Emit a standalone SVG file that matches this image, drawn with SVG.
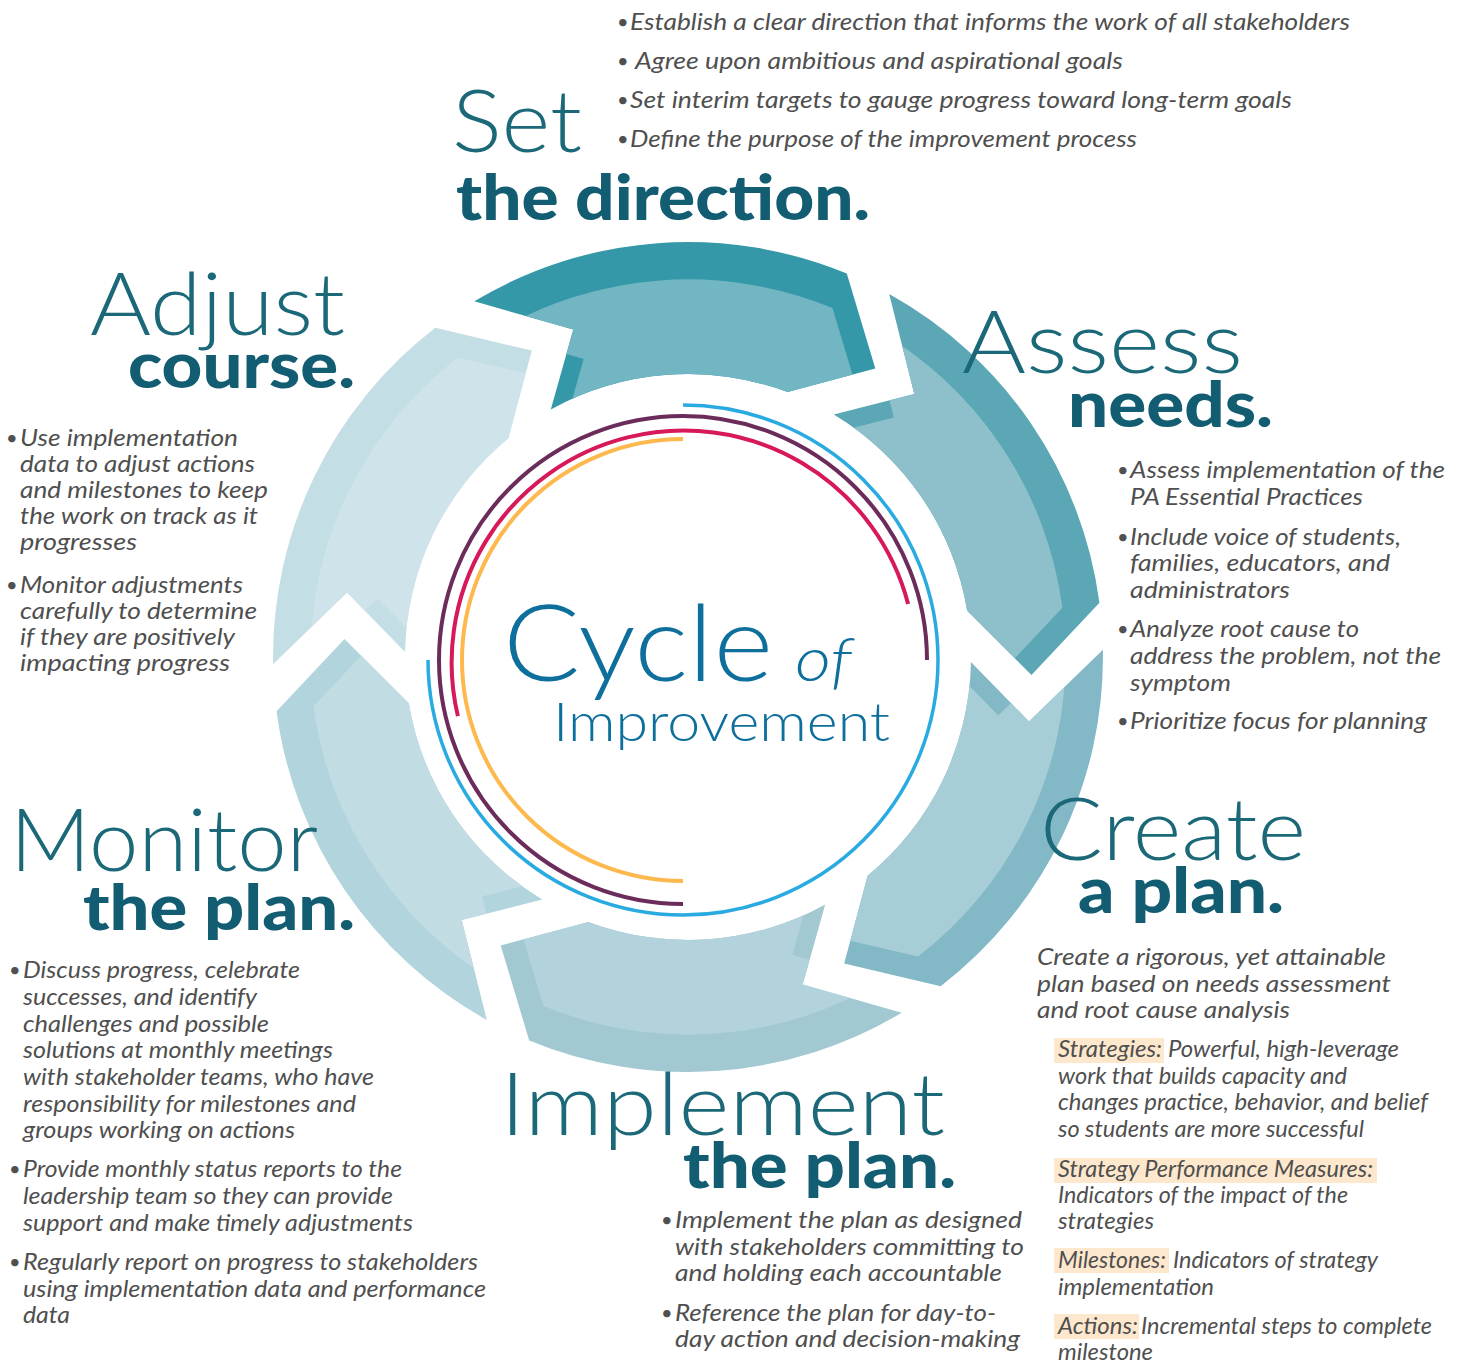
<svg xmlns="http://www.w3.org/2000/svg" xmlns:xlink="http://www.w3.org/1999/xlink" width="1465" height="1363" viewBox="0 0 1465 1363">
<style>
.h1{font-family:Lato,"Open Sans","DejaVu Sans",sans-serif;font-weight:300;font-size:87px;fill:#1b6878}
.h2{font-family:Lato,"Open Sans","DejaVu Sans",sans-serif;font-weight:900;font-size:62px;fill:#135d72}
.b{font-family:Lato,"Open Sans","DejaVu Sans",sans-serif;font-style:italic;font-size:23.5px;fill:#4f4f4f}
.dot{font-family:Lato,"DejaVu Sans",sans-serif;font-size:20px;fill:#505050}
.cy{font-family:Lato,"Open Sans",sans-serif;fill:#0e6f9d}
.hl{fill:#fde8cd}
</style>
<defs>
<path id="arw" d="M -213.7 -355.7 A 415 415 0 0 1 158.8 -383.4 L 187.3 -288.5 L 99.6 -264.9 A 283 283 0 0 0 -137.2 -247.5 L -114.7 -327.5 Z"/>
<clipPath id="arwClip"><use href="#arw"/></clipPath>
</defs>
<rect width="1465" height="1363" fill="#ffffff"/>

<g id="arrow-set" transform="translate(688 657)">
<use href="#arw" fill="#3598a9"/>
<g clip-path="url(#arwClip)"><use href="#arw" transform="scale(0.91)" fill="#71b6c2"/></g>
</g>
<g id="arrow-assess" transform="translate(688 657) rotate(60)">
<use href="#arw" fill="#5ba7b5"/>
<g clip-path="url(#arwClip)"><use href="#arw" transform="scale(0.91)" fill="#8dc0ca"/></g>
</g>
<g id="arrow-create" transform="translate(688 657) rotate(120)">
<use href="#arw" fill="#83b9c6"/>
<g clip-path="url(#arwClip)"><use href="#arw" transform="scale(0.91)" fill="#a7ced7"/></g>
</g>
<g id="arrow-implement" transform="translate(688 657) rotate(180)">
<use href="#arw" fill="#a2c8d2"/>
<g clip-path="url(#arwClip)"><use href="#arw" transform="scale(0.91)" fill="#b2d3dc"/></g>
</g>
<g id="arrow-monitor" transform="translate(688 657) rotate(240)">
<use href="#arw" fill="#b2d4dd"/>
<g clip-path="url(#arwClip)"><use href="#arw" transform="scale(0.91)" fill="#c2dce4"/></g>
</g>
<g id="arrow-adjust" transform="translate(688 657) rotate(300)">
<use href="#arw" fill="#c4dee5"/>
<g clip-path="url(#arwClip)"><use href="#arw" transform="scale(0.91)" fill="#cfe4ea"/></g>
</g>

<g id="rings" fill="none" stroke-width="4">
<path d="M 683 405 A 255 255 0 1 1 428 660" stroke="#29aae1" stroke-width="3.5"/>
<path d="M 927 660 A 244 244 0 1 0 683 904" stroke="#6b2c5b"/>
<path d="M 908.1 603.9 A 232 232 0 0 0 457.9 716.1" stroke="#d7195b"/>
<path d="M 683 439 A 221 221 0 0 0 683 881" stroke="#fdb94e"/>
</g>

<g id="center-title">
<text class="cy" x="503" y="681" font-size="107" font-weight="300" textLength="270" lengthAdjust="spacingAndGlyphs">Cycle</text>
<text class="cy" x="795" y="681" font-size="62" font-weight="300" font-style="italic" textLength="57" lengthAdjust="spacingAndGlyphs">of</text>
<text class="cy" x="553" y="741" font-size="53" font-weight="300" textLength="337" lengthAdjust="spacingAndGlyphs">Improvement</text>
</g>

<g id="set">
<text class="h1" x="452" y="152" textLength="130" lengthAdjust="spacingAndGlyphs">Set</text>
<text class="h2" x="456" y="220" textLength="414" lengthAdjust="spacingAndGlyphs">the direction.</text>
<text class="dot" x="617" y="29">•</text>
<text class="b" x="630" y="30" textLength="720" lengthAdjust="spacingAndGlyphs">Establish a clear direction that informs the work of all stakeholders</text>
<text class="dot" x="617" y="68">•</text>
<text class="b" x="635" y="69" textLength="488" lengthAdjust="spacingAndGlyphs">Agree upon ambitious and aspirational goals</text>
<text class="dot" x="617" y="107">•</text>
<text class="b" x="630" y="108" textLength="662" lengthAdjust="spacingAndGlyphs">Set interim targets to gauge progress toward long-term goals</text>
<text class="dot" x="617" y="146">•</text>
<text class="b" x="630" y="147" textLength="507" lengthAdjust="spacingAndGlyphs">Define the purpose of the improvement process</text>
</g>

<g id="adjust">
<text class="h1" x="90" y="335" textLength="255" lengthAdjust="spacingAndGlyphs">Adjust</text>
<text class="h2" x="128" y="388" textLength="227" lengthAdjust="spacingAndGlyphs">course.</text>
<g style="font-size:24.5px">
<text class="dot" x="6" y="445">•</text>
<text class="b" x="20" y="446" textLength="218" lengthAdjust="spacingAndGlyphs">Use implementation</text>
<text class="b" x="20" y="472" textLength="235" lengthAdjust="spacingAndGlyphs">data to adjust actions</text>
<text class="b" x="20" y="498" textLength="248" lengthAdjust="spacingAndGlyphs">and milestones to keep</text>
<text class="b" x="20" y="524" textLength="238" lengthAdjust="spacingAndGlyphs">the work on track as it</text>
<text class="b" x="20" y="550" textLength="117" lengthAdjust="spacingAndGlyphs">progresses</text>
<text class="dot" x="6" y="592">•</text>
<text class="b" x="20" y="593" textLength="223" lengthAdjust="spacingAndGlyphs">Monitor adjustments</text>
<text class="b" x="20" y="619" textLength="237" lengthAdjust="spacingAndGlyphs">carefully to determine</text>
<text class="b" x="20" y="645" textLength="215" lengthAdjust="spacingAndGlyphs">if they are positively</text>
<text class="b" x="20" y="671" textLength="210" lengthAdjust="spacingAndGlyphs">impacting progress</text>
</g>
</g>

<g id="assess">
<text class="h1" x="962" y="373" textLength="281" lengthAdjust="spacingAndGlyphs">Assess</text>
<text class="h2" x="1068" y="427" textLength="205" lengthAdjust="spacingAndGlyphs">needs.</text>
<g style="font-size:24.5px">
<text class="dot" x="1117" y="477">•</text>
<text class="b" x="1130" y="478" textLength="315" lengthAdjust="spacingAndGlyphs">Assess implementation of the</text>
<text class="b" x="1130" y="505" textLength="233" lengthAdjust="spacingAndGlyphs">PA Essential Practices</text>
<text class="dot" x="1117" y="544">•</text>
<text class="b" x="1130" y="545" textLength="271" lengthAdjust="spacingAndGlyphs">Include voice of students,</text>
<text class="b" x="1130" y="571" textLength="260" lengthAdjust="spacingAndGlyphs">families, educators, and</text>
<text class="b" x="1130" y="598" textLength="160" lengthAdjust="spacingAndGlyphs">administrators</text>
<text class="dot" x="1117" y="636">•</text>
<text class="b" x="1130" y="637" textLength="229" lengthAdjust="spacingAndGlyphs">Analyze root cause to</text>
<text class="b" x="1130" y="664" textLength="311" lengthAdjust="spacingAndGlyphs">address the problem, not the</text>
<text class="b" x="1130" y="691" textLength="101" lengthAdjust="spacingAndGlyphs">symptom</text>
<text class="dot" x="1117" y="728">•</text>
<text class="b" x="1130" y="729" textLength="297" lengthAdjust="spacingAndGlyphs">Prioritize focus for planning</text>
</g>
</g>

<g id="create">
<text class="h1" x="1040" y="860" textLength="266" lengthAdjust="spacingAndGlyphs">Create</text>
<text class="h2" x="1078" y="913" textLength="206" lengthAdjust="spacingAndGlyphs">a plan.</text>
<g style="font-size:24px">
<text class="b" x="1037" y="965" textLength="349" lengthAdjust="spacingAndGlyphs">Create a rigorous, yet attainable</text>
<text class="b" x="1037" y="992" textLength="354" lengthAdjust="spacingAndGlyphs">plan based on needs assessment</text>
<text class="b" x="1037" y="1018" textLength="253" lengthAdjust="spacingAndGlyphs">and root cause analysis</text>
</g>
<rect class="hl" x="1054" y="1038" width="110" height="25"/>
<rect class="hl" x="1054" y="1158" width="323" height="25"/>
<rect class="hl" x="1054" y="1248" width="115" height="25"/>
<rect class="hl" x="1054" y="1314" width="85" height="25"/>
<g style="font-size:22.5px">
<text class="b" x="1058" y="1057" textLength="104" lengthAdjust="spacingAndGlyphs">Strategies:</text>
<text class="b" x="1168" y="1057" textLength="231" lengthAdjust="spacingAndGlyphs">Powerful, high-leverage</text>
<text class="b" x="1058" y="1084" textLength="289" lengthAdjust="spacingAndGlyphs">work that builds capacity and</text>
<text class="b" x="1058" y="1110" textLength="370" lengthAdjust="spacingAndGlyphs">changes practice, behavior, and belief</text>
<text class="b" x="1058" y="1137" textLength="306" lengthAdjust="spacingAndGlyphs">so students are more successful</text>
<text class="b" x="1058" y="1177" textLength="315" lengthAdjust="spacingAndGlyphs">Strategy Performance Measures:</text>
<text class="b" x="1058" y="1203" textLength="290" lengthAdjust="spacingAndGlyphs">Indicators of the impact of the</text>
<text class="b" x="1058" y="1229" textLength="96" lengthAdjust="spacingAndGlyphs">strategies</text>
<text class="b" x="1058" y="1268" textLength="108" lengthAdjust="spacingAndGlyphs">Milestones:</text>
<text class="b" x="1173" y="1268" textLength="205" lengthAdjust="spacingAndGlyphs">Indicators of strategy</text>
<text class="b" x="1058" y="1295" textLength="156" lengthAdjust="spacingAndGlyphs">implementation</text>
<text class="b" x="1058" y="1334" textLength="80" lengthAdjust="spacingAndGlyphs">Actions:</text>
<text class="b" x="1141" y="1334" textLength="291" lengthAdjust="spacingAndGlyphs">Incremental steps to complete</text>
<text class="b" x="1058" y="1360" textLength="95" lengthAdjust="spacingAndGlyphs">milestone</text>
</g>
</g>

<g id="implement">
<text class="h1" x="500" y="1135" textLength="445" lengthAdjust="spacingAndGlyphs">Implement</text>
<text class="h2" x="683" y="1188" textLength="273" lengthAdjust="spacingAndGlyphs">the plan.</text>
<g style="font-size:24.5px">
<text class="dot" x="661" y="1227">•</text>
<text class="b" x="675" y="1228" textLength="347" lengthAdjust="spacingAndGlyphs">Implement the plan as designed</text>
<text class="b" x="675" y="1255" textLength="349" lengthAdjust="spacingAndGlyphs">with stakeholders committing to</text>
<text class="b" x="675" y="1281" textLength="327" lengthAdjust="spacingAndGlyphs">and holding each accountable</text>
<text class="dot" x="661" y="1320">•</text>
<text class="b" x="675" y="1321" textLength="321" lengthAdjust="spacingAndGlyphs">Reference the plan for day-to-</text>
<text class="b" x="675" y="1347" textLength="345" lengthAdjust="spacingAndGlyphs">day action and decision-making</text>
</g>
</g>

<g id="monitor">
<text class="h1" x="10" y="871" textLength="308" lengthAdjust="spacingAndGlyphs">Monitor</text>
<text class="h2" x="83" y="930" textLength="272" lengthAdjust="spacingAndGlyphs">the plan.</text>
<g style="font-size:24px">
<text class="dot" x="9" y="977">•</text>
<text class="b" x="23" y="978" textLength="277" lengthAdjust="spacingAndGlyphs">Discuss progress, celebrate</text>
<text class="b" x="23" y="1005" textLength="234" lengthAdjust="spacingAndGlyphs">successes, and identify</text>
<text class="b" x="23" y="1032" textLength="246" lengthAdjust="spacingAndGlyphs">challenges and possible</text>
<text class="b" x="23" y="1058" textLength="310" lengthAdjust="spacingAndGlyphs">solutions at monthly meetings</text>
<text class="b" x="23" y="1085" textLength="351" lengthAdjust="spacingAndGlyphs">with stakeholder teams, who have</text>
<text class="b" x="23" y="1112" textLength="333" lengthAdjust="spacingAndGlyphs">responsibility for milestones and</text>
<text class="b" x="23" y="1138" textLength="272" lengthAdjust="spacingAndGlyphs">groups working on actions</text>
<text class="dot" x="9" y="1176">•</text>
<text class="b" x="23" y="1177" textLength="379" lengthAdjust="spacingAndGlyphs">Provide monthly status reports to the</text>
<text class="b" x="23" y="1204" textLength="370" lengthAdjust="spacingAndGlyphs">leadership team so they can provide</text>
<text class="b" x="23" y="1231" textLength="390" lengthAdjust="spacingAndGlyphs">support and make timely adjustments</text>
<text class="dot" x="9" y="1269">•</text>
<text class="b" x="23" y="1270" textLength="455" lengthAdjust="spacingAndGlyphs">Regularly report on progress to stakeholders</text>
<text class="b" x="23" y="1297" textLength="463" lengthAdjust="spacingAndGlyphs">using implementation data and performance</text>
<text class="b" x="23" y="1323" textLength="47" lengthAdjust="spacingAndGlyphs">data</text>
</g>
</g>
</svg>
